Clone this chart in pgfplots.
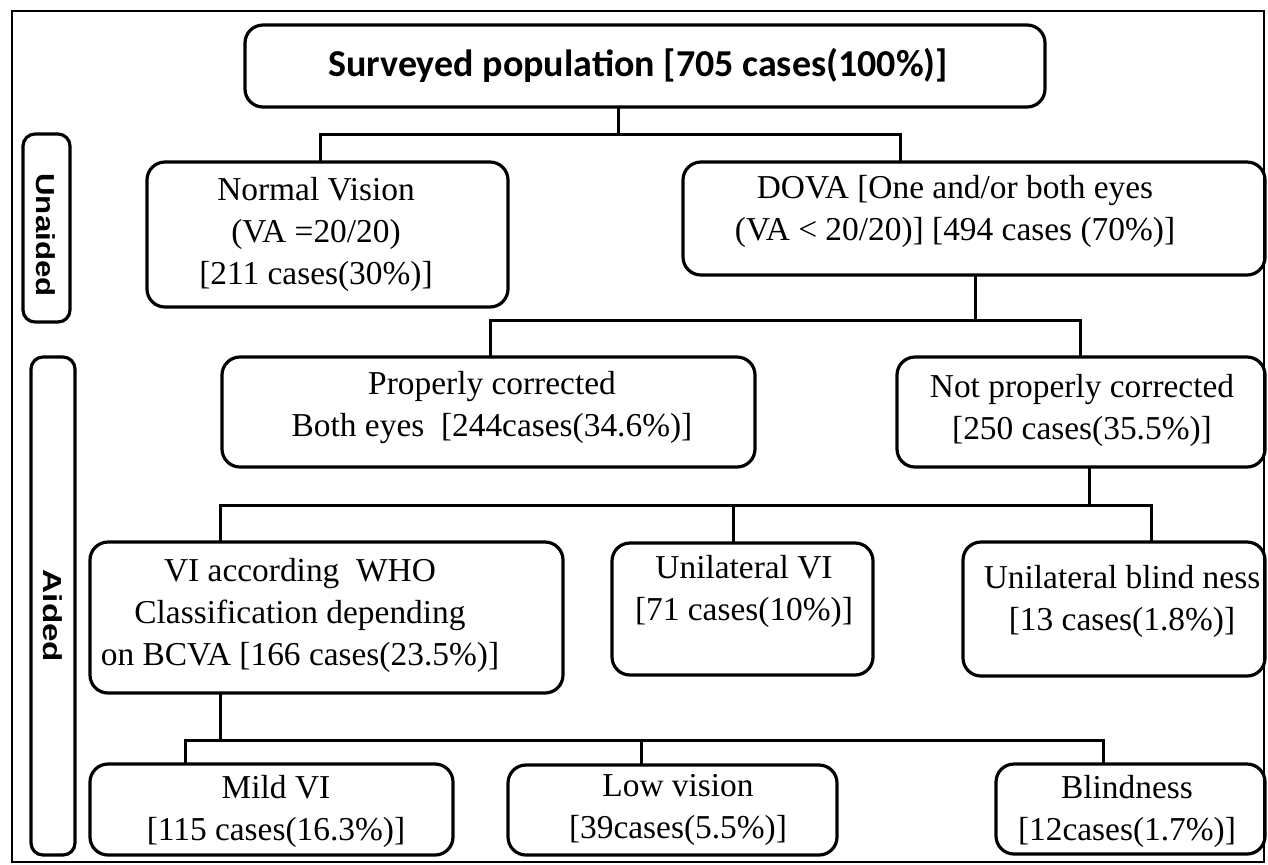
\documentclass[border=0pt]{standalone}
\usepackage{pgfplots}
\pgfplotsset{compat=1.18}
\usepackage{fontspec}
\setmainfont{Liberation Serif}
\newfontfamily\titlefont{Carlito}
\newfontfamily\sidefont{Liberation Sans}
\begin{document}
\begin{tikzpicture}
\begin{axis}[hide axis, scale only axis, width=634pt, height=432pt,
  xmin=0, xmax=1268, ymin=0, ymax=864, y dir=reverse, clip=false]
\path (axis cs:0,0) (axis cs:1268,864);
% outer frame
\draw[line width=1.2pt] (axis cs:12,11) rectangle (axis cs:1264,862);
% boxes
\tikzset{bx/.style={line width=1.6pt, rounded corners=9pt}}
\draw[bx] (axis cs:245,25) rectangle (axis cs:1045,107);
\draw[bx, rounded corners=6pt] (axis cs:23,134) rectangle (axis cs:70,322);
\draw[bx, rounded corners=6pt] (axis cs:31,357) rectangle (axis cs:75,855);
\draw[bx] (axis cs:147,162) rectangle (axis cs:508,307);
\draw[bx] (axis cs:683,162) rectangle (axis cs:1265,275);
\draw[bx] (axis cs:222,357) rectangle (axis cs:755,467);
\draw[bx] (axis cs:897,357) rectangle (axis cs:1265,467);
\draw[bx] (axis cs:90,542) rectangle (axis cs:563,693);
\draw[bx] (axis cs:612,543) rectangle (axis cs:873,675);
\draw[bx] (axis cs:963,542) rectangle (axis cs:1265,676);
\draw[bx] (axis cs:90,764) rectangle (axis cs:453,855);
\draw[bx] (axis cs:508,765) rectangle (axis cs:837,855);
\draw[bx] (axis cs:996,764) rectangle (axis cs:1265,854);
% connectors
\addplot[black, line width=1.5pt] coordinates {(618,107) (618,134)};
\addplot[black, line width=1.5pt] coordinates {(320,162) (320,134) (900,134) (900,162)};
\addplot[black, line width=1.5pt] coordinates {(975,275) (975,320)};
\addplot[black, line width=1.5pt] coordinates {(490,357) (490,320) (1080,320) (1080,357)};
\addplot[black, line width=1.5pt] coordinates {(1089,467) (1089,505)};
\addplot[black, line width=1.5pt] coordinates {(220,542) (220,505) (1151,505) (1151,542)};
\addplot[black, line width=1.5pt] coordinates {(733,505) (733,543)};
\addplot[black, line width=1.5pt] coordinates {(220,693) (220,740)};
\addplot[black, line width=1.5pt] coordinates {(185,764) (185,740) (1103,740) (1103,764)};
\addplot[black, line width=1.5pt] coordinates {(641,740) (641,765)};
% texts
\tikzset{tx/.style={inner sep=0pt, align=center, font=\fontsize{16.7}{21}\selectfont}}
\node[inner sep=0pt, font=\titlefont\bfseries\fontsize{19}{22}\selectfont] at (axis cs:638,65) {Surveyed population {[}705 cases(100\%){]}};
\node[inner sep=0pt, rotate=-90, font=\sidefont\bfseries\fontsize{13}{15}\selectfont] at (axis cs:46,235) {\scalebox{1.2}[1]{Unaided}};
\node[inner sep=0pt, rotate=-90, font=\sidefont\bfseries\fontsize{13}{15}\selectfont] at (axis cs:53,616) {\scalebox{1.28}[1]{Aided}};
\node[tx] at (axis cs:316,234) {Normal Vision\\(VA =20/20)\\{[}211 cases(30\%){]}};
\node[tx] at (axis cs:955,211) {DOVA {[}One and/or both eyes\\(VA < 20/20){]} {[}494 cases (70\%){]}};
\node[tx] at (axis cs:492,408) {Properly corrected\\Both eyes\ \ {[}244cases(34.6\%){]}};
\node[tx] at (axis cs:1082,410) {Not properly corrected\\{[}250 cases(35.5\%){]}};
\node[tx] at (axis cs:300,615) {VI according\ \ WHO\\Classification depending\\on BCVA {[}166 cases(23.5\%){]}};
\node[tx] at (axis cs:744,591) {Unilateral VI\\{[}71 cases(10\%){]}};
\node[tx] at (axis cs:1122,601) {Unilateral blind ness\\{[}13 cases(1.8\%){]}};
\node[tx] at (axis cs:276,811) {Mild VI\\{[}115 cases(16.3\%){]}};
\node[tx] at (axis cs:678,810) {Low vision\\{[}39cases(5.5\%){]}};
\node[tx] at (axis cs:1127,811) {Blindness\\{[}12cases(1.7\%){]}};
\end{axis}
\end{tikzpicture}
\end{document}
